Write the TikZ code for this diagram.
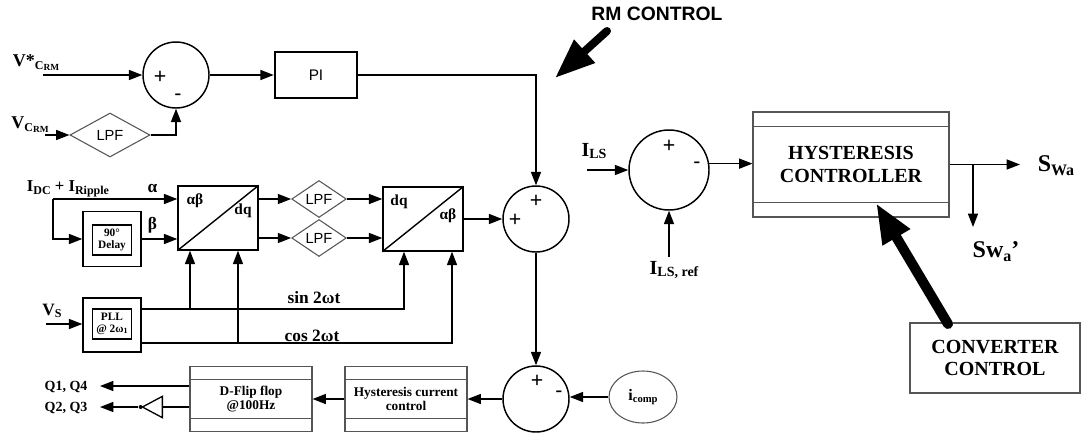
\documentclass[tikz,border=0pt]{standalone}
\usepackage{fontspec}
\setmainfont{Liberation Serif}
\setsansfont{Liberation Sans}
\usepackage{tikz}
\usetikzlibrary{arrows.meta, positioning, shapes.geometric, calc}
\usepackage{xcolor}
\definecolor{framegray}{RGB}{85,85,85}

\newcommand{\fsz}[1]{\fontsize{#1}{#1}\selectfont}
\newcommand{\fszl}[2]{\fontsize{#1}{#2}\selectfont}
\newcommand{\lowsub}[2]{\raisebox{-2pt}{\fsz{#1}#2}}
\newcommand{\crm}{\raisebox{-2pt}{\fsz{9}C\raisebox{-1pt}{\fsz{7}RM}}}

\begin{document}
\begin{tikzpicture}[x=0.75pt, y=-0.75pt,
  arr/.style={-{Triangle[length=10pt,width=7.5pt]}, line width=1.05pt},
  wire/.style={line width=1.05pt},
  bigarr/.style={-{Triangle[length=30pt,width=22pt]}, line width=#1, line cap=round},
  sumnode/.style={circle, draw, line width=1.1pt, inner sep=0pt, minimum size=#1},
  sign/.style={font=\sffamily\fsz{16}, inner sep=0pt},
  lpf/.style={diamond, draw=framegray, line width=0.8pt, inner sep=0pt,
              font=\sffamily\fsz{11}},
  plainbox/.style={rectangle, draw, line width=1.05pt, inner sep=0pt},
  bandbox/.style={rectangle, draw=framegray, line width=0.8pt, align=center,
                  inner sep=0pt,
                  path picture={
                    \draw[framegray, line width=0.8pt]
                      ([yshift=-#1]path picture bounding box.north west) --
                      ([yshift=-#1]path picture bounding box.north east);
                    \draw[framegray, line width=0.8pt]
                      ([yshift=#1]path picture bounding box.south west) --
                      ([yshift=#1]path picture bounding box.south east);}},
  sig/.style={font=\bfseries\fsz{12}, inner sep=0pt},
  small/.style={font=\bfseries\fsz{8.5}, align=center, inner sep=0pt},
  buffer/.style={isosceles triangle, isosceles triangle stretches,
                 shape border rotate=180, draw, line width=1pt, inner sep=0pt,
                 minimum width=16pt, minimum height=15pt},
  dotnode/.style={circle, fill, inner sep=0pt, minimum size=3pt}
]
\useasboundingbox (0,0) rectangle (1081,436);

% top loop: capacitor voltage -> PI
\node[sumnode=49.5pt] (sum1) at (176,75) {};
\node[sign] (sum1p) at (160,77) {+};
\node[sign] (sum1m) at (178,97) {-};
\node[lpf, minimum width=60pt, minimum height=33pt] (lpf1) at (110,135) {LPF};
\node[plainbox, line width=1.9pt, minimum width=61.5pt, minimum height=34.5pt,
      font=\sffamily\fsz{11.5}] (pi) at (316,75) {PI};
\node[sig, font=\bfseries\fsz{13.5}] (vref) at (36,63) {V*\crm};
\node[sig, font=\bfseries\fsz{13.5}] (vc) at (30,125) {V\crm};
\coordinate (vrefin) at (43,75);
\coordinate (vcin) at (45,135);

\draw[arr] (vrefin) -- (sum1);
\draw[arr] (vcin) -- (lpf1);
\draw[arr] (lpf1.east) -| (sum1.south);
\draw[arr] (sum1) -- (pi);

% RM CONTROL pointer
\node[font=\sffamily\bfseries\fsz{14.5}, inner sep=0pt] (rmlabel) at (657,14) {RM CONTROL};
\coordinate (rmtail) at (607,31);
\coordinate (rmtip) at (555,78);
\draw[bigarr=6pt] (rmtail) -- (rmtip);

% ripple current path: alpha/beta -> dq -> LPF -> alpha/beta
\coordinate (split) at (53,199);
\node[sig, font=\bfseries\fsz{12.5}] (idc) at (68,189) {I\lowsub{9}{DC} + I\lowsub{9}{Ripple}};
\node[plainbox, minimum width=43.5pt, minimum height=41pt] (delayo) at (112,239) {};
\node[plainbox, small, minimum width=29pt, minimum height=22.5pt] (delay) at (112,240) {90°\\Delay};
\node[plainbox, minimum width=60pt, minimum height=48pt] (abdq1) at (218,218) {};
\draw[wire] (abdq1.south west) -- (abdq1.north east);
\node[sig, font=\bfseries\fsz{11.5}] (abdq1in) at (195,201) {αβ};
\node[sig, font=\bfseries\fsz{11.5}] (abdq1out) at (243,211) {dq};
\node[lpf, minimum width=41pt, minimum height=24pt] (lpf2) at (319,199) {LPF};
\node[lpf, minimum width=41pt, minimum height=24pt] (lpf3) at (319,238) {LPF};
\node[plainbox, minimum width=60pt, minimum height=48pt] (dqab2) at (423,219) {};
\draw[wire] (dqab2.south west) -- (dqab2.north east);
\node[sig, font=\bfseries\fsz{11.5}] (dqab2in) at (399,202) {dq};
\node[sig, font=\bfseries\fsz{11.5}] (dqab2out) at (448,216) {αβ};
\node[sumnode=49.5pt] (sum2) at (536,219) {};
\node[sign] (sum2p) at (536,201) {+};
\node[sign] (sum2l) at (515,220) {+};

\draw[arr] (split) -- node[sig, font=\bfseries\fsz{13}, above=4pt, pos=0.8]{α} (split -| abdq1.west);
\draw[arr] (split) |- (delayo.west);
\draw[arr] (delayo.east) -- node[sig, font=\bfseries\fsz{13}, above=4pt, pos=0.3]{β} (delayo.east -| abdq1.west);
\draw[arr] (abdq1.east |- lpf2) -- (lpf2);
\draw[arr] (abdq1.east |- lpf3) -- (lpf3);
\draw[arr] (lpf2) -- (dqab2.west |- lpf2);
\draw[arr] (lpf3) -- (dqab2.west |- lpf3);
\draw[arr] (dqab2) -- (sum2);
\draw[arr] (pi.east) -| (sum2.north);

% PLL and sin/cos references
\node[plainbox, minimum width=43.5pt, minimum height=40.5pt] (pllo) at (112,325) {};
\node[plainbox, small, minimum width=29pt, minimum height=22.5pt] (pll) at (112,324) {PLL\\@ 2ω\raisebox{-1pt}{\fsz{6}1}};
\node[sig, font=\bfseries\fsz{13}] (vs) at (52,311) {V\lowsub{9}{S}};
\coordinate (vsin) at (46,324);
\coordinate (sinA) at (142,309);
\coordinate (cosA) at (142,343);
\coordinate (ab1s) at ($(abdq1.south)+(-28,0)$);
\coordinate (ab1c) at ($(abdq1.south)+(20,0)$);
\coordinate (dq2s) at ($(dqab2.south)+(-19,0)$);
\coordinate (dq2c) at ($(dqab2.south)+(29,0)$);
\node[sig, font=\bfseries\fsz{13}] (sinlbl) at (314,298) {sin 2ωt};
\node[sig, font=\bfseries\fsz{13}] (coslbl) at (312,336) {cos 2ωt};

\draw[arr] (vsin) -- (vsin -| pllo.west);
\draw[arr] (sinA) -| (dq2s);
\draw[arr] (cosA) -| (dq2c);
\draw[arr] (ab1s |- sinA) -- (ab1s);
\draw[arr] (ab1c |- cosA) -- (ab1c);

% bottom: current loop and gate signals
\node[sumnode=49.5pt] (sum3) at (536,399) {};
\node[sign] (sum3p) at (537,381) {+};
\node[sign] (sum3m) at (559,394) {-};
\node[ellipse, draw=framegray, line width=0.8pt, minimum width=51pt, minimum height=39pt,
      inner sep=0pt, sig] (icomp) at (643,397) {i\lowsub{8}{comp}};
\node[bandbox=9.5pt, minimum width=91.5pt, minimum height=48.75pt,
      font=\bfseries\fsz{10}] (hcc) at (406,399) {Hysteresis current\\control};
\node[bandbox=9.5pt, minimum width=91.5pt, minimum height=48.75pt,
      font=\bfseries\fsz{10}] (dff) at (251,399) {D-Flip flop\\@100Hz};
\node[buffer] (buf) at (156,407) {};
\node[dotnode] (bufdot) at (buf.apex) {};
\coordinate (q14) at (100,386);
\coordinate (q23) at (100,407);
\node[sig, font=\bfseries\fsz{10.5}] (q14lbl) at (66,387) {Q1, Q4};
\node[sig, font=\bfseries\fsz{10.5}] (q23lbl) at (66,408) {Q2, Q3};

\draw[arr] (sum2) -- (sum3);
\draw[arr] (icomp.west) -- (icomp.west -| sum3.east);
\draw[arr] (sum3) -- (hcc);
\draw[arr] (hcc) -- (dff);
\draw[arr] (dff.west |- q14) -- (q14);
\draw[wire] (dff.west |- q23) -- (buf.lower side);
\draw[arr] (bufdot) -- (q23);

% right: line current hysteresis control
\node[sumnode=60pt] (sum4) at (669,170) {};
\node[sign] (sum4p) at (669,146) {+};
\node[sign] (sum4m) at (697,165) {-};
\node[sig, font=\bfseries\fsz{15}] (ils) at (594,151) {I\lowsub{10.5}{LS}};
\node[sig, font=\bfseries\fsz{15}] (ilsref) at (674,270) {I\lowsub{10.5}{LS, ref}};
\coordinate (ilsin) at (587,170);
\coordinate (ilsrefin) at (669,257);
\node[bandbox=11pt, minimum width=147pt, minimum height=78.75pt,
      font=\bfseries\fszl{15}{17}] (hc) at (851,164.5) {HYSTERESIS\\CONTROLLER};
\coordinate (swaout) at (1020,164.5);
\coordinate (branch) at (973,164.5);
\coordinate (swpout) at (973,227);
\node[sig, font=\bfseries\fsz{18}] (swa) at (1056,166) {S\raisebox{-3pt}{\fsz{12}Wa}};
\node[sig, font=\bfseries\fsz{18}] (swp) at (996,252) {Sw\raisebox{-3pt}{\fsz{12}a}'};
\node[rectangle, draw=framegray, line width=0.8pt, minimum width=127.5pt, minimum height=52.5pt,
      align=center, font=\bfseries\fszl{15}{17}] (conv) at (995,358) {CONVERTER\\CONTROL};
\coordinate (convtail) at (948,324);
\coordinate (convtip) at (876,203);

\draw[arr] (ilsin) -- (sum4);
\draw[arr] (ilsrefin) -- (sum4.south);
\draw[arr] (sum4.9) -- (hc.west |- sum4.9);
\draw[arr] (hc.east) -- (swaout);
\draw[arr] (branch) -- (swpout);
\draw[bigarr=7.5pt] (convtail) -- (convtip);

\end{tikzpicture}
\end{document}
